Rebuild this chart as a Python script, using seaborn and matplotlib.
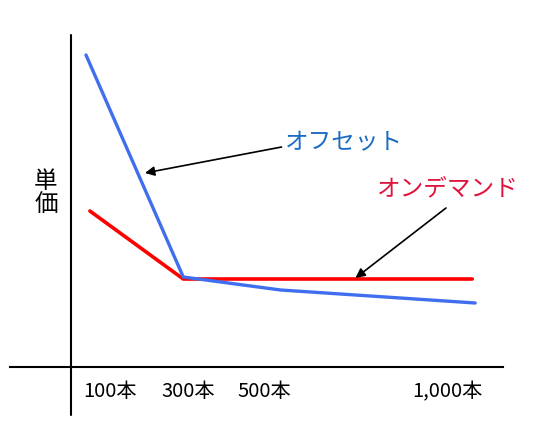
import matplotlib
matplotlib.use("Agg")
import matplotlib.pyplot as plt
import seaborn as sns
import pandas as pd

sns.set_style("white")
plt.rcParams['font.family'] = ['Noto Sans CJK JP', 'DejaVu Sans']
plt.rcParams['text.color'] = 'black'
plt.rcParams['xtick.color'] = 'black'

# data (arbitrary units)
offset_x = [0.0, 1.0, 2.0, 4.0]
offset_y = [312, 90, 77, 64]
ondemand_x = [0.04, 1.0, 3.97]
ondemand_y = [156, 88, 88]
tick_pos = [0.25, 1.05, 1.83, 3.71]
tick_labels = ["100本", "300本", "500本", "1,000本"]

df_off = pd.DataFrame({"x": offset_x, "y": offset_y})
df_on = pd.DataFrame({"x": ondemand_x, "y": ondemand_y})

fig = plt.figure(figsize=(5.4, 4.32), dpi=100)
ax = fig.add_axes([10/540, (432-367)/432, (503-10)/540, (367-35)/432])

sns.lineplot(data=df_on, x="x", y="y", color="#FF0000", lw=2.6, ax=ax, zorder=2)
sns.lineplot(data=df_off, x="x", y="y", color="#3F6FEF", lw=2.4, ax=ax, zorder=3)

ax.set_xlim(-0.781, 4.286)
ax.set_ylim(0, 332)
for s in ["top", "right", "left"]:
    ax.spines[s].set_visible(False)
ax.spines["bottom"].set_color("black")
ax.spines["bottom"].set_linewidth(1.5)
ax.axvline(-0.154, ymin=-48/332, ymax=1, color="black", lw=1.5, clip_on=False)

ax.set_xticks(tick_pos)
ax.set_xticklabels(tick_labels, fontsize=14.5, color="black")
ax.tick_params(axis="x", length=0, pad=10)
ax.set_yticks([])
ax.set_xlabel("")
ax.set_ylabel("")

fig.text(46/540, 1-193/432, "単\n価", ha="center", va="center",
         fontsize=17, linespacing=1.05, color="black")

ax.annotate("", xy=(0.606, 194), xytext=(2.01, 220),
            arrowprops=dict(arrowstyle="-|>", color="black", lw=1.2,
                            mutation_scale=14, shrinkA=0, shrinkB=0))
ax.text(2.04, 224, "オフセット", color="#1A6CC2", fontsize=17,
        ha="left", va="center")

ax.annotate("", xy=(2.77, 89), xytext=(3.70, 159),
            arrowprops=dict(arrowstyle="-|>", color="black", lw=1.2,
                            mutation_scale=14, shrinkA=0, shrinkB=0))
ax.text(2.99, 177, "オンデマンド", color="#E0143C", fontsize=17,
        ha="left", va="center")

fig.savefig("out.png", dpi=100)
